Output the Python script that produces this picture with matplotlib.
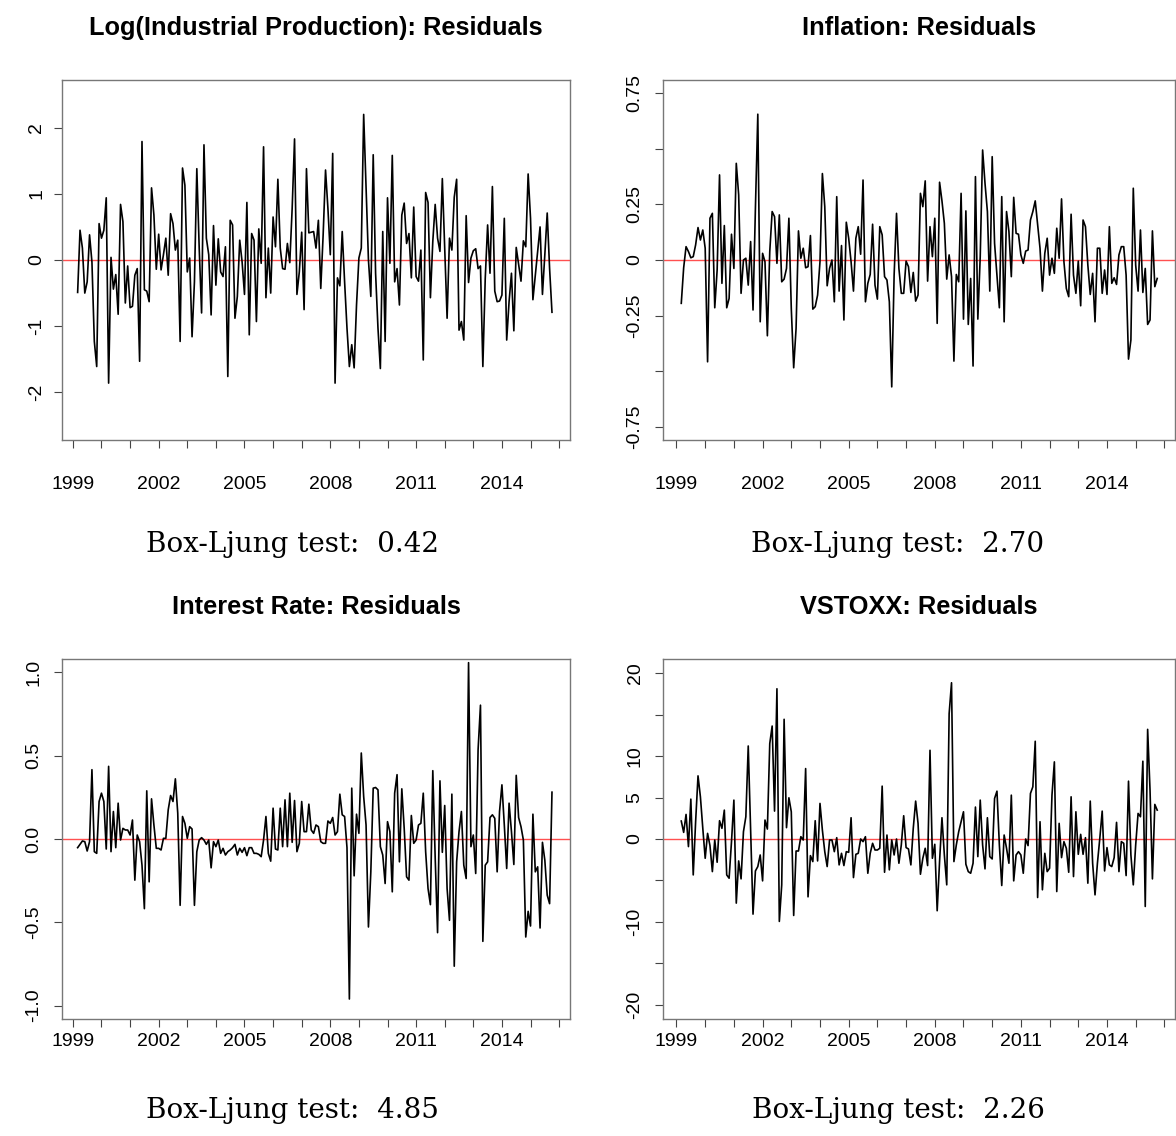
import matplotlib
matplotlib.use('Agg')
import matplotlib.pyplot as plt
import numpy as np

# monthly residuals, Mar 1999 - Oct 2015
ip_resid = [
    -0.49, 0.45, 0.18, -0.50, -0.33, 0.38, -0.03, -1.23, -1.61, 0.55,
    0.33, 0.45, 0.94, -1.86, 0.04, -0.44, -0.22, -0.82, 0.84, 0.58,
    -0.65, -0.09, -0.72, -0.70, -0.23, -0.13, -1.53, 1.79, -0.45, -0.47,
    -0.63, 1.09, 0.68, -0.14, 0.39, -0.15, 0.08, 0.33, -0.23, 0.70,
    0.55, 0.15, 0.30, -1.23, 1.39, 1.13, -0.18, 0.03, -1.16, -0.33,
    1.38, 0.18, -0.80, 1.74, 0.33, 0.08, -0.83, 0.52, -0.38, 0.32,
    -0.18, -0.25, 0.20, -1.76, 0.60, 0.53, -0.88,
    -0.55, 0.30, -0.03, -0.52, 0.87, -1.13, 0.40, 0.30, -0.93, 0.47,
    -0.05, 1.71, -0.57, 0.18, -0.50, 0.65, 0.20, 1.22, 0.18, -0.13,
    -0.14, 0.25, -0.04, 0.78, 1.83, -0.52, -0.18, 0.42, -0.75, 1.38,
    0.41, 0.42, 0.43, 0.18, 0.60, -0.43, 0.38, 1.36, 0.78, 0.08,
    1.61, -1.86, -0.27, -0.39, 0.43, -0.33, -1.03, -1.61, -1.28, -1.63,
    -0.68, 0.03, 0.18, 2.20, 1.08, 0.00, -0.55, 1.59, -0.20, -1.03,
    -1.64, 0.43, -1.23, 0.94, -0.05, 1.58, -0.33, -0.13, -0.68,
    0.68, 0.86, 0.25, 0.40, -0.27, 0.80, -0.25, -0.32, 0.15, -1.51,
    1.02, 0.87, -0.57, 0.28, 0.84, 0.33, 0.13, 1.23, 0.18, -0.88,
    0.33, 0.15, 0.95, 1.22, -1.06, -0.93, -1.21, 0.67, -0.34, 0.03,
    0.14, 0.17, -0.13, -0.09, -1.61, -0.28, 0.53, -0.20, 1.11, -0.47,
    -0.63, -0.62, -0.53, 0.63, -1.21, -0.63, -0.20, -1.07, 0.19, -0.07,
    -0.32, 0.29, 0.20, 1.30, 0.63, -0.60, -0.23, 0.13, 0.50, -0.52,
    0.08, 0.71, -0.13, -0.79,
]

infl_resid = [
    -0.195, -0.035, 0.06, 0.038, 0.01, 0.015, 0.068, 0.146, 0.09, 0.135,
    0.053, -0.458, 0.188, 0.21, -0.215, -0.045, 0.383, -0.105, 0.155, -0.215,
    -0.173, 0.116, -0.038, 0.435, 0.293, -0.15, 0.0, 0.008, -0.113, 0.083,
    -0.225, 0.233, 0.656, -0.278, 0.03, -0.008, -0.341, 0.038, 0.218, 0.195,
    -0.015, 0.203, -0.098, -0.086, -0.038, 0.188, -0.218, -0.485, -0.308, 0.131,
    0.008, 0.053, -0.035, -0.03, 0.11, -0.221, -0.21, -0.158, -0.008, 0.389,
    0.24, -0.116, -0.038, 0.0, -0.188,
    0.285, -0.14, 0.065, -0.27, 0.17, 0.098, -0.008, -0.14, 0.098, 0.15,
    0.026, 0.36, -0.188, -0.105, -0.065, 0.161, -0.113, -0.176, 0.15, 0.113,
    -0.075, -0.09, -0.188, -0.571, -0.068, 0.21, -0.038, -0.15, -0.15, -0.005,
    -0.03, -0.146, -0.056, -0.185, -0.158, 0.30, 0.24, 0.356, -0.095, 0.15,
    0.015, 0.188, -0.285, 0.35, 0.266, 0.165, -0.086, 0.023, -0.075, -0.455,
    -0.065, -0.098, 0.30, -0.266, 0.221, -0.29, -0.083, -0.477, 0.375, -0.266,
    0.015, 0.495, 0.345, 0.218, -0.14, 0.465, 0.075, -0.068, -0.215,
    0.285, -0.278, 0.218, 0.128, -0.075, 0.282, 0.12, 0.116, 0.023, -0.015,
    0.04, 0.045, 0.18, 0.218, 0.266, 0.158, 0.053, -0.14, 0.03, 0.098,
    -0.068, 0.008, -0.06, 0.143, 0.008, 0.275, -0.008, -0.128, -0.165, 0.206,
    -0.068, -0.15, -0.005, -0.206, 0.18, 0.15, -0.023, -0.155, -0.06, -0.278,
    0.053, 0.053, -0.15, -0.045, -0.155, 0.15, -0.105, -0.08, -0.11, 0.023,
    0.06, 0.06, -0.068, -0.446, -0.36, 0.323, -0.023, -0.14, 0.135, -0.146,
    -0.038, -0.29, -0.27, 0.131, -0.12, -0.083,
]

rate_resid = [
    -0.052, -0.032, -0.012, -0.016, -0.072, -0.016, 0.416, -0.076, -0.086, 0.225,
    0.275, 0.225, -0.06, 0.436, -0.076, 0.165, -0.052, 0.215, -0.006, 0.064,
    0.054, 0.054, 0.024, 0.114, -0.247, 0.024, -0.016, -0.157, -0.418, 0.289,
    -0.257, 0.241, 0.084, -0.056, -0.056, -0.066, 0.004, 0.004, 0.175, 0.261,
    0.225, 0.361, 0.155, -0.398, 0.135, 0.094, 0.004, 0.074, 0.06, -0.398,
    -0.076, -0.006, 0.008, -0.006, -0.032, -0.006, -0.173, -0.016, -0.046, -0.006,
    -0.086, -0.056, -0.096, -0.076, -0.066, -0.052, -0.032,
    -0.096, -0.056, -0.08, -0.052, -0.10, -0.052, -0.052, -0.086, -0.086, -0.092,
    -0.106, -0.006, 0.135, -0.086, -0.133, 0.185, -0.06, -0.066, 0.185, -0.046,
    0.235, -0.046, 0.275, -0.02, 0.231, -0.076, -0.026, 0.225, 0.044, 0.044,
    0.209, 0.054, 0.034, 0.084, 0.074, -0.016, -0.026, -0.026, 0.108, 0.094,
    0.129, 0.024, 0.044, 0.269, 0.145, 0.135, -0.052, -0.96, 0.305, -0.221,
    0.149, 0.034, 0.516, 0.255, 0.084, -0.528, -0.197, 0.305, 0.309, 0.295,
    -0.046, -0.096, -0.267, 0.104, 0.044, -0.317, 0.275, 0.386, -0.137,
    0.301, 0.064, -0.227, -0.247, 0.141, -0.026, -0.006, 0.084, 0.094, 0.275,
    -0.076, -0.297, -0.394, 0.41, -0.112, -0.562, 0.349, -0.08, 0.201, -0.297,
    -0.488, 0.269, -0.763, -0.137, 0.044, 0.165, -0.157, -0.237, 1.058, -0.046,
    0.024, -0.207, 0.536, 0.803, -0.614, -0.157, -0.137, 0.129, 0.145, 0.124,
    -0.197, 0.165, 0.325, 0.084, -0.177, 0.215, 0.044, -0.153, 0.382, 0.129,
    0.074, -0.006, -0.588, -0.434, -0.522, 0.149, -0.197, -0.167, -0.534, -0.02,
    -0.127, -0.337, -0.388, 0.281,
]

vstoxx_resid = [
    2.17, 0.80, 2.97, -0.92, 4.82, -4.34, 2.09, 7.63, 5.10, 1.29,
    -2.33, 0.68, -0.80, -3.94, -0.12, -2.81, 2.21, 1.29, 3.49, -4.34,
    -4.74, -0.32, 4.70, -7.75, -2.65, -4.82, 0.88, 2.69, 11.24, 0.88,
    -9.08, -3.86, -3.33, -1.93, -5.06, 2.29, 1.20, 11.53, 13.65, 3.37,
    18.15, -9.96, -5.54, 14.46, 1.37, 4.98, 3.29, -9.24, -1.45, -1.45,
    0.28, -0.12, 8.51, -6.99, -2.01, -2.73, 2.21, -2.65, 4.30, 1.08,
    -1.53, -3.33, -0.12, -0.12, -1.53,
    0.16, -3.13, -1.73, -3.21, -1.53, -1.61, 2.57, -4.66, -1.85, -1.73,
    0.0, -0.32, 0.28, -4.14, -1.73, -0.52, -1.33, -1.33, -1.12, 6.39,
    -4.02, 0.48, -3.73, -0.12, -1.93, 0.0, -2.93, -0.72, 2.81, -1.04,
    -1.20, -3.13, 1.29, 4.58, 1.89, -4.26, -2.33, -1.12, -3.21, 10.72,
    -2.33, -0.64, -8.67, -2.73, 2.57, -1.93, -5.54, 15.14, 18.88, -2.73,
    -0.72, 0.88, 2.09, 3.29, -3.05, -3.94, -4.14, -2.93, 3.86, -2.13,
    4.70, -0.72, -3.61, 2.57, -2.13, -2.41, 4.90, 5.78, -0.72,
    -5.62, 0.48, -1.12, -2.93, 5.30, -5.06, -1.93, -1.53, -1.93, -4.14,
    0.0, -0.80, 5.50, 6.31, 11.81, -7.07, 2.09, -6.14, -1.73, -3.94,
    -3.53, 5.30, 9.32, -6.35, 1.89, -2.25, -0.32, -1.12, -4.02, 5.10,
    -4.54, 3.29, -1.85, 0.56, -1.85, 0.16, -5.34, 4.58, -2.93, -6.75,
    -2.93, 0.08, 3.37, -3.86, -1.04, -3.13, -3.33, -2.25, 2.01, -3.94,
    -0.32, -0.52, -4.42, 6.99, -1.93, -5.54, -0.72, 3.09, 2.69, 9.40,
    -8.15, 13.25, 5.90, -4.82, 4.18, 3.49,
]

titles = ['Log(Industrial Production): Residuals', 'Inflation: Residuals',
          'Interest Rate: Residuals', 'VSTOXX: Residuals']
box_ljung = ['0.42', '2.70', '4.85', '2.26']

yticks = [
    ([-2, -1, 0, 1, 2], ['-2', '-1', '0', '1', '2']),
    ([-0.75, -0.5, -0.25, 0, 0.25, 0.5, 0.75], ['-0.75', '', '-0.25', '0', '0.25', '', '0.75']),
    ([-1, -0.5, 0, 0.5, 1], ['-1.0', '-0.5', '0.0', '0.5', '1.0']),
    ([-20, -15, -10, -5, 0, 5, 10, 15, 20], ['-20', '', '-10', '', '0', '5', '10', '', '20']),
]
ylims = [2.72, 0.81, 1.08, 21.75]
years = np.arange(1999, 2017)
year_labels = [str(y) if (y - 1999) % 3 == 0 else '' for y in years]

series = [ip_resid, infl_resid, rate_resid, vstoxx_resid]
for s in series:
    assert len(s) == 200, len(s)
t = 1999 + 2 / 12 + np.arange(200) / 12

W, H = 1176, 1136
plt.rcParams['font.family'] = ['Liberation Sans', 'DejaVu Sans']
fig = plt.figure(figsize=(W / 100, H / 100), dpi=100)

# pixel boxes of the four panels: left, top, right, bottom
boxes = [(62, 80, 570, 440), (663, 80, 1175, 440),
         (62, 659, 570, 1019), (663, 659, 1175, 1019)]
xlims = [(1998.62, 2016.38), (1998.53, 2016.37), (1998.62, 2016.38), (1998.53, 2016.37)]
xpads = [20, 20, 4, 4]
ypads = [6, 8, 8, 8]
title_y = [28, 28, 607, 607]
cap_x = [292, 898, 292, 898]
cap_y = [545, 545, 1110, 1110]

for i in range(4):
    l, tp, r, b = boxes[i]
    ax = fig.add_axes([l / W, 1 - b / H, (r - l) / W, (b - tp) / H])
    ax.plot(t, series[i], color='black', lw=1.2, zorder=3)
    ax.axhline(0, color='#ff5050', lw=1.0, zorder=2)
    ax.set_xlim(*xlims[i])
    ax.set_ylim(-ylims[i], ylims[i])
    ax.set_xticks(years)
    ax.set_xticklabels(year_labels, fontsize=14)
    ax.set_yticks(yticks[i][0])
    ax.set_yticklabels(yticks[i][1], fontsize=14, rotation=90, va='center')
    ax.tick_params(direction='out', length=6, width=0.8, color='#444444')
    ax.tick_params(axis='x', pad=xpads[i])
    ax.tick_params(axis='y', pad=ypads[i])
    for sp in ax.spines.values():
        sp.set_color('#777777')
        sp.set_linewidth(1.0)
    fig.text((l + r) / 2 / W, 1 - title_y[i] / H, titles[i], ha='center', va='center',
             fontsize=18.3, fontweight='bold')
    fig.text(cap_x[i] / W, 1 - cap_y[i] / H, 'Box-Ljung test:  ' + box_ljung[i],
             ha='center', va='center', fontsize=20, family='DejaVu Serif')

plt.savefig('out.png', dpi=100)
